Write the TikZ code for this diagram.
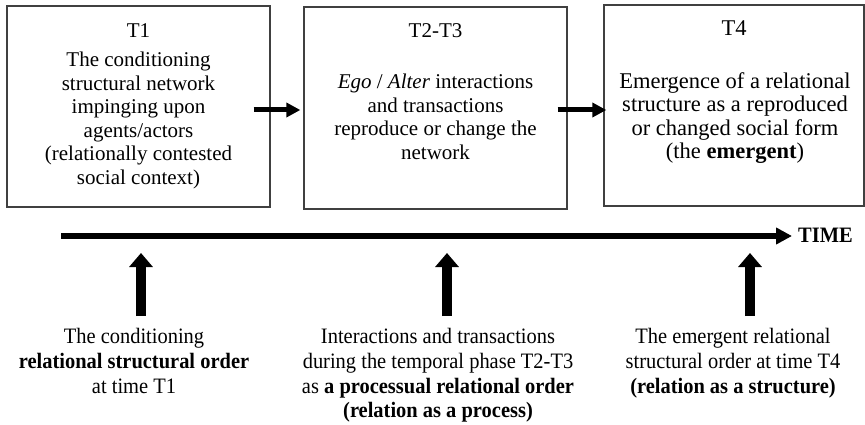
\documentclass[tikz,border=0pt]{standalone}
\usepackage{fontspec}
\setmainfont{Liberation Serif}
\newfontfamily\lowfont{Liberation Serif}[FakeStretch=0.93]
\usetikzlibrary{arrows.meta}
\definecolor{boxgray}{HTML}{404040}
\begin{document}
\begin{tikzpicture}[x=1pt,y=-1pt,
  box/.style={draw=boxgray,line width=1.3pt,inner sep=0pt},
  boxtext/.style={font=\fontsize{21}{23.5}\selectfont,align=center,inner sep=0pt},
  bigboxtext/.style={font=\fontsize{22.5}{23.6}\selectfont,align=center,inner sep=0pt},
  lowtext/.style={font=\lowfont\fontsize{22}{24.8}\selectfont,align=center,inner sep=0pt},
  flow/.style={line width=5pt,-{Triangle[length=14pt,width=14pt]}},
  timeline/.style={line width=5.5pt,-{Triangle[length=16pt,width=16pt]}},
  uparrow/.style={line width=10.5pt,-{Triangle[length=14pt,width=23pt]}}]
\useasboundingbox (0,0) rectangle (865,425);

% phase boxes
\node[box,minimum width=263pt,minimum height=201pt] (b1) at (138.5,106.5) {};
\node[box,minimum width=263pt,minimum height=202pt] (b2) at (435.5,108) {};
\node[box,minimum width=260pt,minimum height=201pt] (b3) at (734,105.5) {};

% box contents
\node[boxtext,anchor=base] (b1title) at (138.5,38) {T1};
\node[boxtext,anchor=north] (b1body) at (138.5,52) {The conditioning\\structural network\\impinging upon\\agents/actors\\(relationally contested\\social context)};

\node[boxtext,anchor=base] (b2title) at (435.5,38) {T2-T3};
\node[boxtext,anchor=north] (b2body) at (435.5,74) {\textit{Ego} / \textit{Alter} interactions\\and transactions\\reproduce or change the\\network};

\node[bigboxtext,anchor=base] (b3title) at (734,36) {T4};
\node[bigboxtext,anchor=north] (b3body) at (735,72) {Emergence of a relational\\structure as a reproduced\\or changed social form\\(the \textbf{emergent})};

% arrows between phases
\draw[flow] ([xshift=-17pt,yshift=-3.5pt]b1.east) -- ([xshift=-3pt,yshift=-2pt]b2.west);
\draw[flow] ([xshift=-10pt,yshift=-2pt]b2.east) -- ([xshift=3pt,yshift=-4.5pt]b3.west);

% time axis
\coordinate (t0) at (61,236);
\node[inner sep=0pt,anchor=west,font=\lowfont\fontsize{22}{25}\selectfont\bfseries] (time) at (798,235) {TIME};
\draw[timeline] (t0) -- ([xshift=-6pt]time.west |- t0);

% orders along the axis
\coordinate (u1s) at (141,316); \coordinate (u1e) at (141,253);
\coordinate (u2s) at (447,316); \coordinate (u2e) at (447,253);
\coordinate (u3s) at (750,316); \coordinate (u3e) at (750,253);
\draw[uparrow] (u1s) -- (u1e);
\draw[uparrow] (u2s) -- (u2e);
\draw[uparrow] (u3s) -- (u3e);

\node[lowtext,anchor=north] (n1) at (134,328) {The conditioning\\\textbf{relational structural order}\\at time T1};
\node[lowtext,anchor=north] (n2) at (438,328) {Interactions and transactions\\during the temporal phase T2-T3\\as \textbf{a processual relational order}\\\textbf{(relation as a process)}};
\node[lowtext,anchor=north] (n3) at (733,328) {The emergent relational\\structural order at time T4\\\textbf{(relation as a structure)}};
\end{tikzpicture}
\end{document}
